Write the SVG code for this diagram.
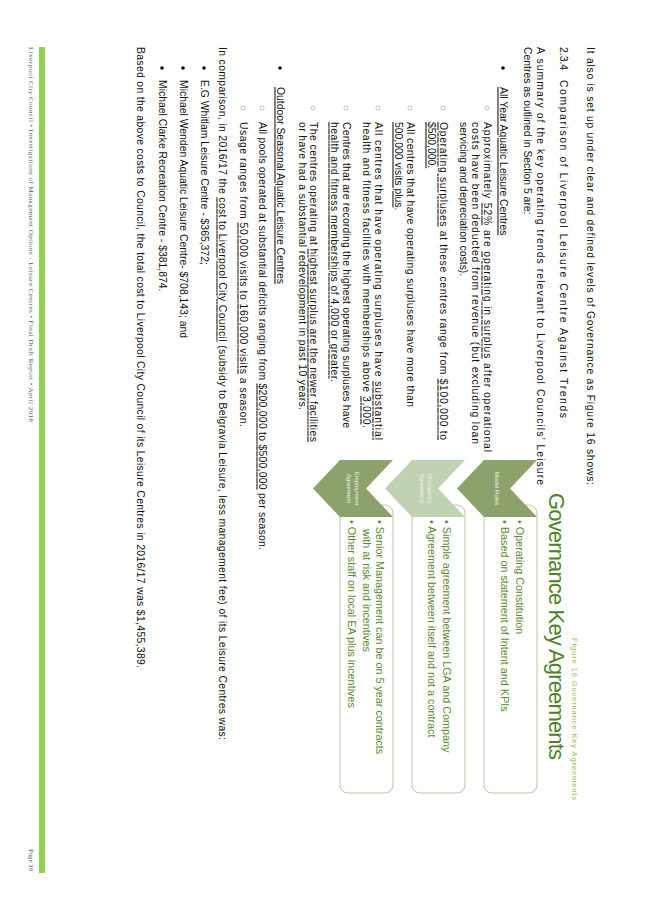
<svg xmlns="http://www.w3.org/2000/svg" width="653" height="924" viewBox="0 0 653 924">
<style>
.b{font-family:"Liberation Sans",Arial,sans-serif;font-size:10.4px;fill:#111}
.u{text-decoration:underline}
.h{font-family:"Liberation Sans",Arial,sans-serif;font-size:10.4px;fill:#111;font-weight:bold}
.circ{fill:none;stroke:#999;stroke-width:0.6}
.g{font-family:"Liberation Sans",Arial,sans-serif;font-size:10.8px;fill:#5b8a30}
.lab{font-family:"Liberation Sans",Arial,sans-serif;font-size:6px;fill:#f2f5ee;text-anchor:middle}
.box{fill:#fff;stroke:#b7c9a3;stroke-width:1}
.dk{fill:#8ca26a}
.lt{fill:#c1d2b3}
.ft{font-family:"Liberation Serif","Times New Roman",serif;font-size:7px;fill:#555}
</style>
<rect width="653" height="924" fill="#fff"/>
<g transform="translate(653,0) rotate(90)">
<g id="body">
<text class="b" x="47" y="66.5" textLength="438">It also is set up under clear and defined levels of Governance as Figure 16 shows:</text>
<text class="b" x="47" y="93.5">2.3.4</text>
<text class="b" x="80" y="93.5" textLength="338">Comparison of Liverpool Leisure Centre Against Trends</text>
<text class="b" x="47" y="116.5" textLength="438">A summary of the key operating trends relevant to Liverpool Councils’ Leisure</text>
<text class="b" x="47" y="129.5">Centres as outlined in Section 5 are:</text>
<circle cx="68" cy="150" r="1.8" fill="#111"/>
<text class="b u" x="87" y="153.5">All Year Aquatic Leisure Centres</text>
<circle class="circ" cx="108" cy="166" r="2"/>
<text class="b" x="122" y="169.5" textLength="330">Approximately <tspan class="u">52%</tspan> are <tspan class="u">operating in surplus</tspan> after operational</text>
<text class="b" x="122" y="181.5" textLength="322">costs have been deducted from revenue (but excluding loan</text>
<text class="b" x="122" y="193.5">servicing and depreciation costs).</text>
<circle class="circ" cx="108" cy="210" r="2"/>
<text class="b" x="122" y="213.5" textLength="318"><tspan class="u">Operating surpluses</tspan> at these centres range from <tspan class="u">$100,000 to</tspan></text>
<text class="b u" x="122" y="225.5">$500,000.</text>
<circle class="circ" cx="108" cy="243" r="2"/>
<text class="b" x="122" y="246.5" textLength="285">All centres that have operating surpluses have more than</text>
<text class="b" x="122" y="258.5"><tspan class="u">500,000 visits plus</tspan>.</text>
<circle class="circ" cx="108" cy="275" r="2"/>
<text class="b" x="122" y="278.5" textLength="318">All centres that have operating surpluses have <tspan class="u">substantial</tspan></text>
<text class="b" x="122" y="290.5" textLength="306">health and fitness facilities with memberships above <tspan class="u">3,000</tspan>.</text>
<circle class="circ" cx="108" cy="307" r="2"/>
<text class="b" x="122" y="310.5" textLength="306">Centres that are recording the highest operating surpluses have</text>
<text class="b" x="122" y="322.5" textLength="260"><tspan class="u">health and fitness memberships of 4,000 or greater</tspan>.</text>
<circle class="circ" cx="108" cy="340" r="2"/>
<text class="b" x="122" y="343.5" textLength="320">The centres operating at <tspan class="u">highest surplus are the newer facilities</tspan></text>
<text class="b" x="122" y="354.5" textLength="288">or have had a substantial redevelopment in past 10 years.</text>
<circle cx="68" cy="373" r="1.8" fill="#111"/>
<text class="b u" x="87" y="376.5">Outdoor Seasonal Aquatic Leisure Centres</text>
<circle class="circ" cx="108" cy="391" r="2"/>
<text class="b" x="122" y="394.5" textLength="428">All pools operated at substantial deficits ranging from <tspan class="u">$200,000 to $500,000</tspan> per season.</text>
<circle class="circ" cx="108" cy="410" r="2"/>
<text class="b" x="122" y="413.5" textLength="305">Usage ranges from <tspan class="u">50,000 visits to 160,000 visits</tspan> a season.</text>
<text class="b" x="47" y="434.5" textLength="693">In comparison, in 2016/17 the <tspan class="u">cost to Liverpool City Council</tspan> (subsidy to Belgravia Leisure, less management fee) of its Leisure Centres was:</text>
<circle cx="68" cy="449" r="1.8" fill="#111"/>
<text class="b" x="80" y="452.5">E.G Whitlam Leisure Centre - $365,372;</text>
<circle cx="68" cy="470" r="1.8" fill="#111"/>
<text class="b" x="80" y="473.5">Michael Wenden Aquatic Leisure Centre- $708,143; and</text>
<circle cx="68" cy="491" r="1.8" fill="#111"/>
<text class="b" x="80" y="494.5">Michael Clarke Recreation Centre - $381,874.</text>
<text class="b" x="47" y="516.5" textLength="621">Based on the above costs to Council, the total cost to Liverpool City Council of its Leisure Centres in 2016/17 was $1,455,389.</text>
</g>
<g id="figure">
<text x="638" y="81" font-family="Liberation Sans,Arial,sans-serif" font-size="7.5" fill="#8fbf55" textLength="162">Figure 16  Governance Key Agreements</text>
<text x="493" y="104" font-family="Liberation Sans,Arial,sans-serif" font-size="22" fill="#4f8228" textLength="267">Governance Key Agreements</text>
</g>
<g id="row1">
<rect class="box" x="505" y="116" width="288" height="53" rx="8"/>
<polygon class="dk" points="460,116 488.5,143 517,116 517,169 488.5,196 460,169"/>
<text class="lab" x="488.5" y="158">Model Rules</text>
<text class="g" x="520" y="137">• Operating Constitution</text>
<text class="g" x="520" y="152">• Based on statement of Intent and KPIs</text>
</g>
<g id="row2">
<rect class="box" x="505" y="188" width="288" height="53" rx="8"/>
<polygon class="lt" points="460,188 488.5,215 517,188 517,241 488.5,268 460,241"/>
<text class="lab" x="488.5" y="225">Occupancy</text>
<text class="lab" x="488.5" y="233">Agreement</text>
<text class="g" x="520" y="210">• Simple agreement between LGA and Company</text>
<text class="g" x="520" y="225">• Agreement between itself and not a contract</text>
</g>
<g id="row3">
<rect class="box" x="505" y="260" width="288" height="53" rx="8"/>
<polygon class="dk" points="460,260 488.5,287 517,260 517,313 488.5,340 460,313"/>
<text class="lab" x="488.5" y="298">Employment</text>
<text class="lab" x="488.5" y="306">Agreement</text>
<text class="g" x="520" y="277">• Senior Management can be on 5 year contracts</text>
<text class="g" x="529" y="290">with at risk and incentives</text>
<text class="g" x="520" y="305">• Other staff on local EA plus incentives</text>
</g>
<g id="connectors"></g>
<g id="footer">
<rect x="47" y="608" width="826" height="6" fill="#92d050"/>
<text class="ft" x="47" y="624" textLength="375">Liverpool City Council • Investigations of Management Options - Leisure Centres • Final Draft Report • April 2018</text>
<text class="ft" x="849" y="624">Page 19</text>
</g>
</g>
</svg>
